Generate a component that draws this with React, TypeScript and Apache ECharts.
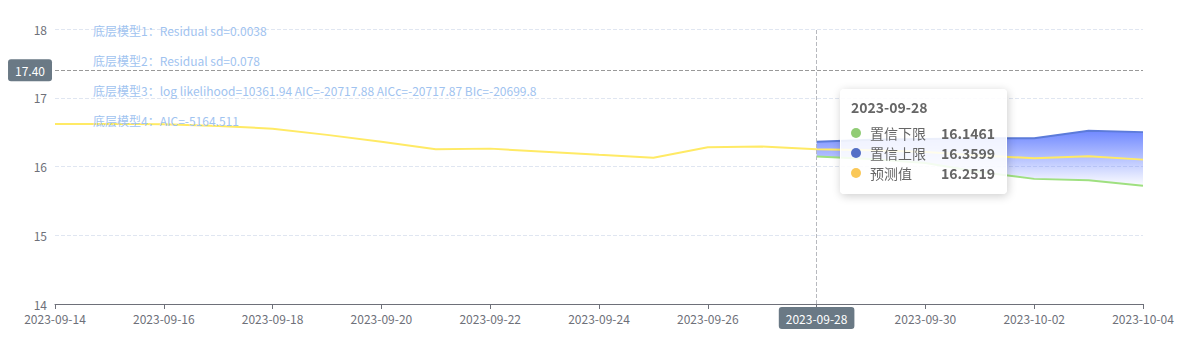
import React, { useEffect, useRef } from "react";
import * as echarts from "echarts";

const dates = [
  "2023-09-14", "2023-09-15", "2023-09-16", "2023-09-17", "2023-09-18", "2023-09-19", "2023-09-20",
  "2023-09-21", "2023-09-22", "2023-09-23", "2023-09-24", "2023-09-25", "2023-09-26", "2023-09-27",
  "2023-09-28", "2023-09-29", "2023-09-30", "2023-10-01", "2023-10-02", "2023-10-03", "2023-10-04",
];

const predicted = [
  16.617, 16.62, 16.615, 16.59, 16.55, 16.46, 16.36, 16.25, 16.26, 16.215, 16.17, 16.128, 16.28, 16.29,
  16.2519, 16.235, 16.21, 16.16, 16.12, 16.15, 16.1,
];

const lower: (number | null)[] = [
  null, null, null, null, null, null, null, null, null, null, null, null, null, null,
  16.1461, 16.11, 16.05, 15.92, 15.82, 15.8, 15.72,
];

const upper: (number | null)[] = [
  null, null, null, null, null, null, null, null, null, null, null, null, null, null,
  16.3599, 16.39, 16.4, 16.41, 16.41, 16.52, 16.5,
];

const notes = [
  "底层模型1：Residual sd=0.0038",
  "底层模型2：Residual sd=0.078",
  "底层模型3：log likelihood=10361.94 AIC=-20717.88 AICc=-20717.87 BIc=-20699.8",
  "底层模型4：AIC=-5164.511",
];

const seriesNames = ["置信下限", "置信上限", "预测值"];
const markerColors = ["#91cc75", "#5470c6", "#fac858"];
const pointerDate = "2023-09-28";
const pointerValue = 17.4;

const FONT = '"Microsoft YaHei", "Noto Sans CJK SC", sans-serif';

export default function App() {
  const ref = useRef<HTMLDivElement>(null);

  useEffect(() => {
    if (!ref.current) return;
    const chart = echarts.init(ref.current, null, { renderer: "svg" });

    const band = upper.map((u, i) => (u == null || lower[i] == null ? null : +(u - (lower[i] as number)).toFixed(6)));

    const row = (color: string, name: string, val: string) =>
      `<div style="display:flex;align-items:center;height:20px;line-height:20px">` +
      `<span style="display:inline-block;width:10px;height:10px;border-radius:5px;background:${color};margin-right:9px"></span>` +
      `<span style="font-size:14px;color:#666">${name}</span>` +
      `<span style="margin-left:auto;padding-left:15px;font-size:14px;font-weight:bold;color:#666">${val}</span></div>`;

    const option: any = {
      animation: false,
      textStyle: { fontFamily: FONT },
      grid: { left: 55, right: 49, top: 29, bottom: 47, containLabel: false },
      tooltip: {
        trigger: "axis",
        alwaysShowContent: true,
        axisPointer: {
          type: "cross",
          label: { backgroundColor: "#6a7985", precision: 2, fontFamily: FONT },
          crossStyle: { color: "#999" },
        },
        position: (p: number[]) => [p[0] + 23, p[1] + 19],
        backgroundColor: "rgba(255,255,255,0.88)",
        borderColor: "#fff",
        borderWidth: 1,
        padding: [10, 11, 10, 10],
        extraCssText: "box-shadow: 1px 2px 10px rgba(0,0,0,0.2); border-radius:4px;",
        textStyle: { fontFamily: FONT },
        formatter: (params: any) => {
          const arr = Array.isArray(params) ? params : [params];
          const idx = arr[0].dataIndex;
          let html = `<div style="font-size:14px;font-weight:bold;color:#666;line-height:14px;margin-bottom:9px">${dates[idx]}</div>`;
          if (lower[idx] != null) html += row(markerColors[0], seriesNames[0], (lower[idx] as number).toFixed(4));
          if (upper[idx] != null) html += row(markerColors[1], seriesNames[1], (upper[idx] as number).toFixed(4));
          html += row(markerColors[2], seriesNames[2], predicted[idx].toFixed(4));
          return html;
        },
      },
      xAxis: {
        type: "category",
        boundaryGap: false,
        data: dates,
        axisLine: { lineStyle: { color: "#6e7079" } },
        axisTick: { interval: 1 },
        axisLabel: { interval: 1, color: "#6e7079", fontSize: 12, fontFamily: FONT },
      },
      yAxis: {
        type: "value",
        min: 14,
        max: 18,
        interval: 1,
        axisLine: { show: false },
        axisTick: { show: false },
        axisLabel: { color: "#6e7079", fontSize: 12, fontFamily: FONT },
        splitLine: { lineStyle: { type: "dashed", color: "#e0e6f1" } },
      },
      graphic: notes.map((t, i) => ({
        type: "text",
        x: 93,
        y: 30 + i * 30,
        z: 100,
        style: { text: t, fill: "#9fc3f0", fontSize: 12, fontFamily: FONT, verticalAlign: "middle" },
      })),
      series: [
        {
          name: seriesNames[0],
          type: "line",
          stack: "conf",
          data: lower,
          showSymbol: false,
          symbol: "none",
          lineStyle: { color: "#91cc75", width: 2 },
          itemStyle: { color: "#91cc75" },
        },
        {
          name: seriesNames[1],
          type: "line",
          stack: "conf",
          data: band,
          showSymbol: false,
          symbol: "none",
          lineStyle: { color: "#5470c6", width: 2 },
          itemStyle: { color: "#5470c6" },
          areaStyle: {
            opacity: 1,
            color: new echarts.graphic.LinearGradient(0, 0, 0, 1, [
              { offset: 0, color: "rgba(88,112,236,0.9)" },
              { offset: 1, color: "rgba(88,112,236,0.02)" },
            ]),
          },
        },
        {
          name: seriesNames[2],
          type: "line",
          data: predicted,
          showSymbol: false,
          symbol: "none",
          lineStyle: { color: "#fcd55c", width: 2 },
          itemStyle: { color: "#fac858" },
        },
      ],
    };

    chart.setOption(option);
    const pt = chart.convertToPixel({ gridIndex: 0 }, [pointerDate, pointerValue]) as number[];
    chart.dispatchAction({ type: "showTip", x: pt[0], y: pt[1] });

    return () => chart.dispose();
  }, []);

  return <div ref={ref} style={{ position: "absolute", left: 0, top: 0, width: 1192, height: 351 }} />;
}
